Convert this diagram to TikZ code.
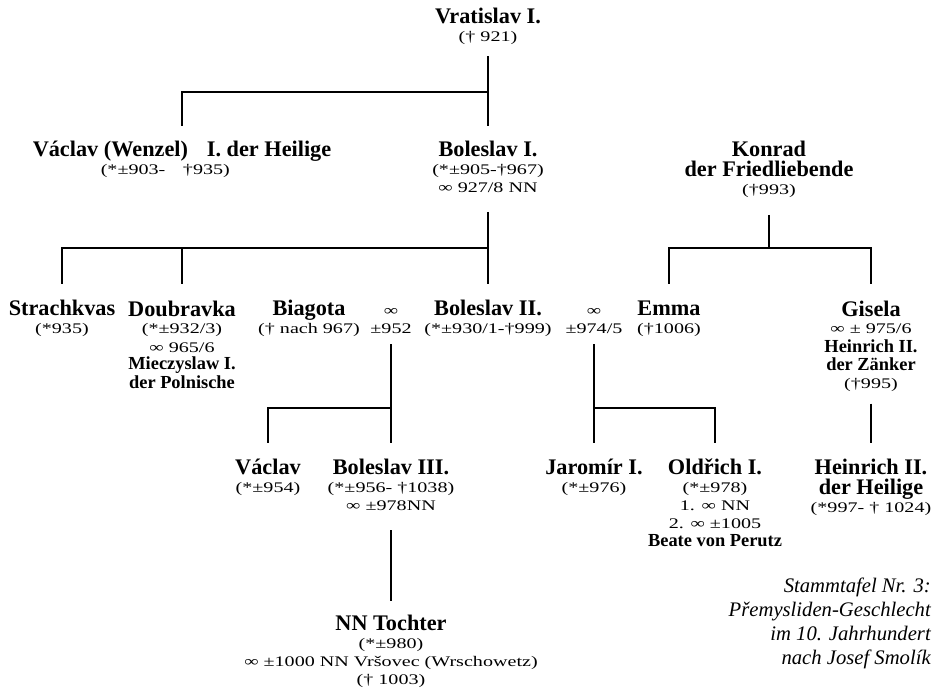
\documentclass[tikz,border=0pt]{standalone}
\usepackage{fontspec}
\setmainfont{Liberation Serif}
\newfontfamily\smfam{Liberation Serif}[FakeStretch=1.37]
\newcommand\nm{\rmfamily\bfseries\fontsize{16.7pt}{13.5pt}\selectfont}
\newcommand\smtxt{\smfam\fontsize{11pt}{13.5pt}\selectfont}
\newcommand\bsm{\rmfamily\bfseries\fontsize{13.8pt}{13.5pt}\selectfont}
\newcommand\capf{\rmfamily\itshape\fontsize{15.5pt}{18pt}\selectfont}
\begin{document}
\begin{tikzpicture}[x=0.75pt,y=-0.75pt,
  pers/.style={align=center, anchor=base, inner sep=0pt, outer sep=0pt, font=\smtxt},
  conn/.style={line width=1.5pt, draw=black}]
\useasboundingbox (0,0) rectangle (935,691);
% generation 1
\node[pers] (vrat) at (488,42) {{\nm Vratislav I.}\\(† 921)};
% generation 2
\node[pers] (wenz) at (182,175) {{\nm Václav (Wenzel)\hspace{0.6em} I. der Heilige}\\(*±903-\hspace{1.2em}†935)\kern25pt};
\node[pers] (bol1) at (488,193) {{\nm Boleslav I.}\\(*±905-†967)\\∞ 927/8 NN};
\node[pers] (konr) at (769,195) {{\nm Konrad}\\[1.5pt]{\nm der Friedliebende}\\(†993)};
% generation 3
\node[pers] (strach) at (62,334) {{\nm Strachkvas}\\(*935)};
\node[pers] (doub) at (182,388) {{\nm Doubravka}\\(*±932/3)\\∞ 965/6\\{\bsm Mieczyslaw I.}\\{\bsm der Polnische}};
\node[pers] (biag) at (309,334) {{\nm Biagota}\\(† nach 967)};
\node[pers] (m1) at (391,334) {∞\\±952};
\node[pers] (bol2) at (488,334) {{\nm Boleslav II.}\\(*±930/1-†999)};
\node[pers] (m2) at (594,334) {∞\\±974/5};
\node[pers] (emma) at (669,334) {{\nm Emma}\\(†1006)};
\node[pers] (gis) at (871,388) {{\nm Gisela}\\∞ ± 975/6\\{\bsm Heinrich II.}\\{\bsm der Zänker}\\(†995)};
% generation 4
\node[pers] (vac2) at (268,492) {{\nm Václav}\\(*±954)};
\node[pers] (bol3) at (391,510) {{\nm Boleslav III.}\\(*±956- †1038)\\∞ ±978NN};
\node[pers] (jar) at (594,492) {{\nm Jaromír I.}\\(*±976)};
\node[pers] (old) at (715,546) {{\nm Oldřich I.}\\(*±978)\\1. ∞ NN\\2. ∞ ±1005\\{\bsm Beate von Perutz}};
\node[pers] (hein) at (871,512) {{\nm Heinrich II.}\\[1.5pt]{\nm der Heilige}\\(*997- † 1024)};
% generation 5
\node[pers] (toch) at (391,684) {{\nm NN Tochter}\\(*±980)\\∞ ±1000 NN Vršovec (Wrschowetz)\\(† 1003)};
% caption
\node[anchor=base east, align=right, inner sep=0pt, font=\capf] (cap) at (931,664)
  {Stammtafel Nr. 3:\\Přemysliden-Geschlecht\\im 10. Jahrhundert\\nach Josef Smolík};
% junctions
\coordinate (j1) at (488,92);
\coordinate (j2) at (488,248);
\coordinate (j3) at (769,248);
\coordinate (j4) at (391,408);
\coordinate (j5) at (594,408);
% connectors
\draw[conn, shorten <=8.5pt, shorten >=11.7pt] (vrat.south) -- (bol1.north);
\draw[conn, shorten >=11.3pt] (j1) -| (wenz.north);
\draw[conn, shorten <=14pt, shorten >=12.5pt] (bol1.south) -- (bol2.north);
\draw[conn, shorten >=12.5pt] (j2) -| (strach.north);
\draw[conn, shorten >=12.5pt] (j2) -| (doub.north);
\draw[conn, shorten <=12.5pt] (konr.south) -- (j3);
\draw[conn, shorten >=12.7pt] (j3) -| (emma.north);
\draw[conn, shorten >=12.5pt] (j3) -| (gis.north);
\draw[conn, shorten <=7.5pt, shorten >=11.7pt] (m1.south) -- (bol3.north);
\draw[conn, shorten >=11.7pt] (j4) -| (vac2.north);
\draw[conn, shorten <=7.5pt, shorten >=11.3pt] (m2.south) -- (jar.north);
\draw[conn, shorten >=11.3pt] (j5) -| (old.north);
\draw[conn, shorten <=9.3pt, shorten >=11.7pt] (gis.south) -- (hein.north);
\draw[conn, shorten <=15pt, shorten >=10.2pt] (bol3.south) -- (toch.north);
\end{tikzpicture}
\end{document}
